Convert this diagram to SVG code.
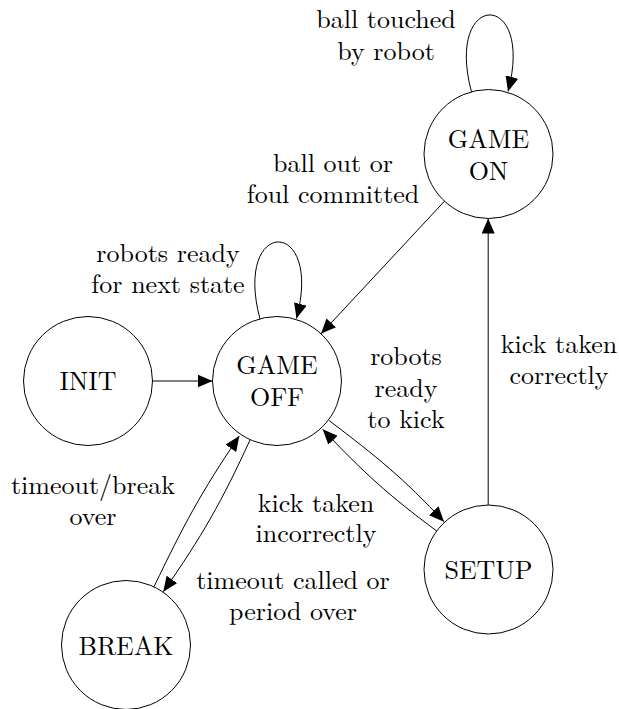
<svg xmlns="http://www.w3.org/2000/svg" width="619" height="709" viewBox="0 0 619 709">
  <style>
    .node circle { fill: #ffffff; stroke: #000000; stroke-width: 1; }
    .edge { fill: none; stroke: #000000; stroke-width: 1; marker-end: url(#ah); }
  </style>
  <defs>
    <marker id="ah" markerUnits="userSpaceOnUse" markerWidth="16" markerHeight="13" refX="15" refY="6.5" orient="auto" viewBox="0 0 16 13">
      <path d="M0,0 L15,6.5 L0,13 z" fill="#000000"/>
    </marker>
  </defs>
  <rect width="619" height="709" fill="#ffffff"/>

  <g id="connectors">
    <path class="edge" d="M152.5,381 L212.5,381"/>
    <path class="edge" d="M444.5,201.2 L321,333.8"/>
    <path class="edge" d="M260,319 C232.6,216.6 323.9,216.1 296.5,318.5"/>
    <path class="edge" d="M471.5,92 C444.1,-10.4 535.4,-10.9 508,91.5"/>
    <path class="edge" d="M488.2,505 L488.2,218.5"/>
    <path class="edge" d="M329.3,420.7 C377.1,457 403.1,477.8 444,521.7"/>
    <path class="edge" d="M436.7,531 C388.5,495.2 363.9,472.9 322.7,429.3"/>
    <path class="edge" d="M154,586.7 C183.3,525.9 201.2,491.7 239.3,436"/>
    <path class="edge" d="M250,440 C221.9,501.4 202,536.4 163.3,591.7"/>
  </g>

  <g font-family="Latin Modern Roman, Liberation Serif, serif" font-size="26" fill="#000000" text-anchor="middle">
  <g id="labels">
    <text x="386" y="28">ball touched</text>
    <text x="386" y="60">by robot</text>
    <text x="333" y="171.5">ball out or</text>
    <text x="333" y="203">foul committed</text>
    <text x="168" y="261.5">robots ready</text>
    <text x="168" y="292.5">for next state</text>
    <text x="406" y="365">robots</text>
    <text x="406" y="396.5">ready</text>
    <text x="406" y="428">to kick</text>
    <text x="559" y="353">kick taken</text>
    <text x="559" y="384">correctly</text>
    <text x="93" y="494">timeout/break</text>
    <text x="93" y="525">over</text>
    <text x="316" y="511.5">kick taken</text>
    <text x="316" y="541.5">incorrectly</text>
    <text x="293" y="589">timeout called or</text>
    <text x="293" y="620">period over</text>
  </g>

  <g id="node-init" class="node">
    <circle cx="88" cy="381" r="64.5"/>
    <text x="88" y="390">INIT</text>
  </g>
  <g id="node-game-off" class="node">
    <circle cx="277" cy="381" r="64.5"/>
    <text x="277" y="374">GAME</text>
    <text x="277" y="406">OFF</text>
  </g>
  <g id="node-game-on" class="node">
    <circle cx="488.5" cy="154" r="64.5"/>
    <text x="488.5" y="147.5">GAME</text>
    <text x="488.5" y="180">ON</text>
  </g>
  <g id="node-setup" class="node">
    <circle cx="488.5" cy="569.5" r="64.5"/>
    <text x="488.5" y="579">SETUP</text>
  </g>
  <g id="node-break" class="node">
    <circle cx="126" cy="645" r="64.5"/>
    <text x="126" y="655">BREAK</text>
  </g>
  </g>
</svg>
